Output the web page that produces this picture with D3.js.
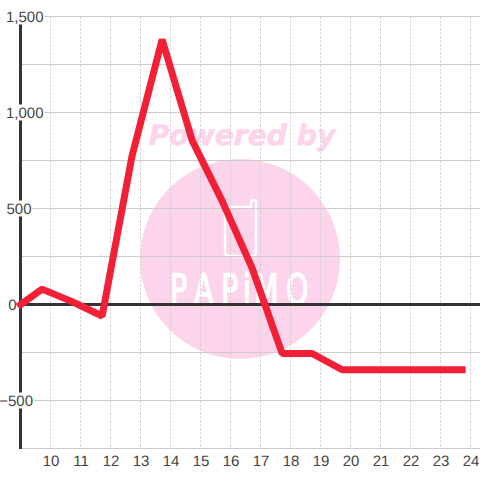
<!DOCTYPE html>
<html><head><meta charset="utf-8">
<script src="https://cdn.jsdelivr.net/npm/d3@7"></script>
<style>html,body{margin:0;padding:0;background:#fff}svg{display:block}text{text-rendering:geometricPrecision}</style>
</head><body><svg id="c" width="480" height="480"></svg>
<script>
const xTicks = [10,11,12,13,14,15,16,17,18,19,20,21,22,23,24];
const yGrid = [1500,1250,1000,750,500,250,0,-250,-500,-750];
const yLabels = [1500,1000,500,0,-500];
const hours = [9,9.72,10.72,11.72,12.72,13.72,14.72,15.72,16.72,17.72,18.72,19.72,20.72,21.72,22.72,23.72];
const values = [0,80,15,-60,775,1380,855,540,190,-255,-255,-340,-340,-340,-340,-340];

const svg = d3.select('#c');
const x = d3.scaleLinear().domain([9,24]).range([20.5,470.5]);
const y = d3.scaleLinear().domain([1500,-750]).range([16.5,448.5]);
const font = 'Liberation Sans, Arial, sans-serif';

// watermark (beneath the grid)
const wm = svg.append('g');
wm.append('circle').attr('cx',240).attr('cy',259).attr('r',100).attr('fill','#fcd5ec');
wm.append('text').text('Powered by').attr('x',242).attr('y',145).attr('text-anchor','middle')
  .attr('font-family','DejaVu Sans').attr('font-weight','bold').attr('font-style','italic')
  .attr('font-size',28.2).attr('fill','#fcd5ec').attr('stroke','#fcd5ec').attr('stroke-width',0.6);
wm.append('path').attr('d','M225 207H251V202Q251 200 253.500 200Q256 200 256 202V252Q256 256 252 256H229Q225 256 225 252Z')
  .attr('fill','none').attr('stroke','#fff').attr('stroke-width',2.5).attr('stroke-linejoin','round');
wm.append('text').text('PAPiMO')
  .attr('transform','translate(0,304) scale(0.68,1)')
  .attr('x',[170,194,221,243,254,286].map(v=>v/0.68).join(' ')).attr('y',0)
  .attr('font-family','DejaVu Sans').attr('font-size',42).attr('fill','#fff')
  .attr('stroke','#fff').attr('stroke-width',1.4);

// horizontal grid
svg.append('g').selectAll('line').data(yGrid).join('line')
  .attr('x1',20).attr('x2',480).attr('y1',d=>y(d)).attr('y2',d=>y(d))
  .attr('stroke','#ccc').attr('stroke-width',1);
// vertical grid
svg.append('g').selectAll('line').data(xTicks).join('line')
  .attr('x1',d=>x(d)).attr('x2',d=>x(d)).attr('y1',y(1500)).attr('y2',y(-750))
  .attr('stroke','#ccc').attr('stroke-width',1).attr('stroke-dasharray','2 2');

// axes
svg.append('line').attr('x1',20.5).attr('x2',20.5).attr('y1',16).attr('y2',449).attr('stroke','#333').attr('stroke-width',3);
svg.append('line').attr('x1',20).attr('x2',480).attr('y1',y(0)).attr('y2',y(0)).attr('stroke','#333').attr('stroke-width',3);

// labels
const fmt = d3.format(',');
const lab = svg.append('g').attr('font-family',font).attr('font-size',15).attr('fill','#444');
lab.selectAll('text.x').data(xTicks).join('text').attr('class','x').text(d=>d)
  .attr('x',d=>x(d)+0.5).attr('y',466).attr('text-anchor','middle');
const ylab = lab.append('g').selectAll('g').data(yLabels).join('g');
const lx = d=> d>=1000 ? 43.5 : d===0 ? 16.5 : d<0 ? 33 : 31.5;
ylab.append('text').text(d=>fmt(d)).attr('x',lx).attr('y',d=>y(d)+5.5).attr('text-anchor','end')
  .each(function(d){
    const b=this.getBBox();
    d3.select(this.parentNode).insert('rect','text')
      .attr('x',b.x-1).attr('width',b.width+2).attr('y',y(d)-8).attr('height',16).attr('fill','#fff');
  });

// series
const line = d3.line().x((d,i)=>x(hours[i])).y(d=>y(d));
svg.append('path').attr('d',line(values)).attr('fill','none').attr('stroke','#f22037')
  .attr('stroke-width',7).attr('stroke-linejoin','bevel').attr('stroke-linecap','square');
</script></body></html>
